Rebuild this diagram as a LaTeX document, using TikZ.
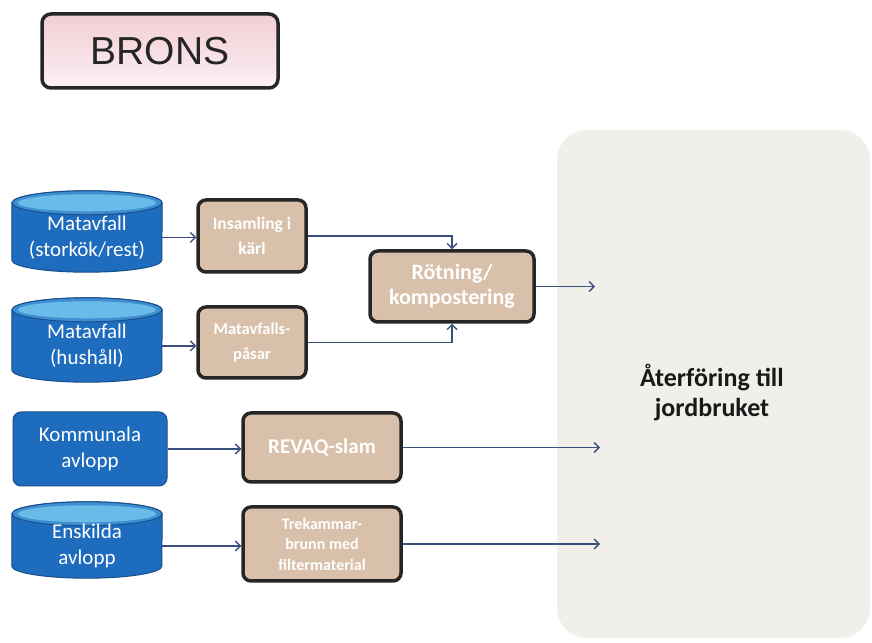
\documentclass[tikz,border=0pt]{standalone}
\usepackage{fontspec}
\setmainfont{Carlito}
\newfontfamily\arialfont{Liberation Sans}
\usetikzlibrary{arrows.meta,backgrounds,calc}
\definecolor{cylblue}{HTML}{1E6CBD}
\definecolor{cylmid}{HTML}{3E8FD2}
\definecolor{cyltopc}{HTML}{6BBBE8}
\definecolor{cylrim}{HTML}{1A4F8A}
\definecolor{tanfill}{HTML}{D8C0AA}
\definecolor{boxline}{HTML}{262626}
\definecolor{arrowc}{HTML}{3A4F80}
\definecolor{panelc}{HTML}{F1EFEA}
\definecolor{pinktop}{HTML}{F2CDD5}
\definecolor{pinkbot}{HTML}{FBF1F3}
\tikzset{
  cylnode/.style={minimum width=150pt, inner sep=0pt, align=center, text=white, font=\fontsize{21}{26}\selectfont},
  bluebox/.style={rectangle, rounded corners=8pt, fill=cylblue, draw=cylrim, line width=1pt, minimum width=154pt, minimum height=74pt, inner sep=0pt, align=center, text=white, font=\fontsize{21}{26}\selectfont},
  tanbox/.style={rectangle, rounded corners=8pt, fill=tanfill, draw=boxline, line width=3.5pt, inner sep=0pt, align=center, text=white, font=\bfseries\fontsize{17.5}{25}\selectfont},
  flow/.style={draw=arrowc, line width=1.3pt, -{Straight Barb[length=5pt,width=10pt,line width=1.3pt]}},
}
\begin{document}
\begin{tikzpicture}[x=1pt,y=1pt]
\useasboundingbox (0,0) rectangle (872,642);
% title
\node[rectangle, rounded corners=9pt, draw=boxline, line width=3.5pt, top color=pinktop, bottom color=pinkbot, minimum width=236pt, minimum height=74pt, font=\arialfont\fontsize{39}{42}\selectfont, text=black!85] (brons) at (160,591) {BRONS};
% right panel
\node[rectangle, rounded corners=30pt, fill=panelc, minimum width=313pt, minimum height=508pt] (panel) at (713.5,258) {};
\node[align=center, font=\bfseries\fontsize{26}{30}\selectfont, text=black!90] (ptext) at (712,249) {Återföring till\\jordbruket};
% sources
\node[cylnode, minimum height=69pt] (m1) at (87,404.5) {Matavfall\\(storkök/rest)};
\node[cylnode, minimum height=72pt] (m2) at (87,296) {Matavfall\\(hushåll)};
\node[bluebox] (kom) at (90,193) {Kommunala\\avlopp};
\node[cylnode, minimum height=64pt] (ens) at (87,96) {Enskilda\\avlopp};
\begin{scope}[on background layer]
\fill[white] (0,0) rectangle (872,642);
\foreach \n in {m1,m2,ens}{
  \filldraw[fill=cylblue, draw=cylrim, line width=1pt]
    (\n.north west) -- ([yshift=12pt]\n.south west)
    arc[start angle=180,end angle=360,x radius=75pt,y radius=12pt]
    -- (\n.north east)
    arc[start angle=0,end angle=180,x radius=75pt,y radius=12pt] -- cycle;
  \filldraw[fill=cylmid, draw=cylrim, line width=1pt] (\n.north) ellipse[x radius=75pt, y radius=12pt];
  \fill[cyltopc] (\n.north) ellipse[x radius=69pt, y radius=8.5pt];
}
\end{scope}
% process boxes
\node[tanbox, minimum width=108pt, minimum height=72pt] (ins) at (252,406) {Insamling i\\kärl};
\node[tanbox, minimum width=108pt, minimum height=71pt, font=\bfseries\fontsize{16.5}{25}\selectfont] (pas) at (252,299.5) {Matavfalls-\\påsar};
\node[tanbox, minimum width=164pt, minimum height=71pt, font=\bfseries\fontsize{22}{25}\selectfont] (rot) at (452,355.5) {Rötning/\\kompostering};
\node[tanbox, minimum width=158pt, minimum height=69pt, font=\bfseries\fontsize{21}{25}\selectfont] (rev) at (322,194.5) {REVAQ-slam};
\node[tanbox, minimum width=158pt, minimum height=74pt, font=\bfseries\fontsize{16}{20.5}\selectfont] (tre) at (322,98) {Trekammar-\\brunn med\\filtermaterial};
% arrow ends
\coordinate (e1) at (595,355.5);
\coordinate (e2) at (600,194.5);
\coordinate (e3) at (600,98);
% connectors
\draw[flow] (m1.east) -- (m1.east -| ins.west);
\draw[flow] (m2.east) -- (m2.east -| pas.west);
\draw[flow] (ins.east) -| (rot.north);
\draw[flow] (pas.east) -| (rot.south);
\draw[flow] (rot.east) -- (e1);
\draw[flow] (kom.east) -- (kom.east -| rev.west);
\draw[flow] (rev.east) -- (e2);
\draw[flow] (ens.east) -- (ens.east -| tre.west);
\draw[flow] (tre.east) -- (e3);
\end{tikzpicture}
\end{document}
